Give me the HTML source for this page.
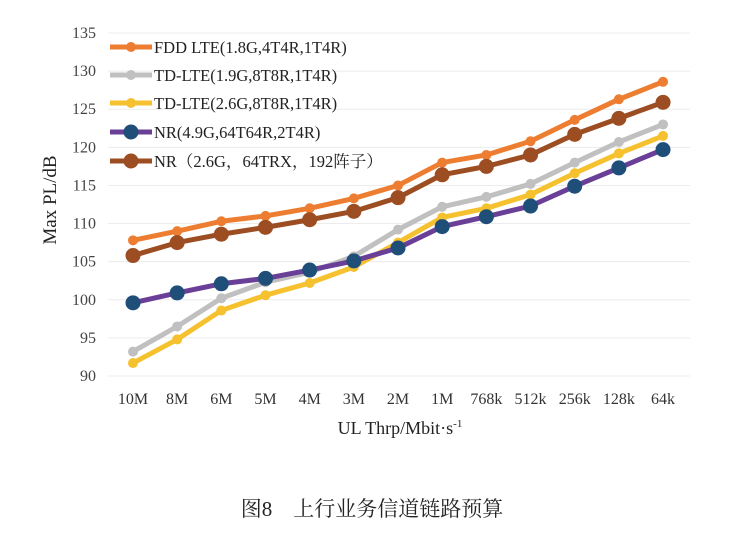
<!DOCTYPE html>
<html><head><meta charset="utf-8"><style>
body{margin:0;background:#fff;width:748px;height:551px;overflow:hidden}
svg{font-family:"Liberation Serif","Noto Serif CJK SC",serif}
</style></head><body>
<svg id="s" width="748" height="551" xmlns="http://www.w3.org/2000/svg"></svg>
<script>
const s=document.getElementById('s');
let h='';
const Y=v=>33+(135-v)*7.622, X=i=>133+i*44.17;
for(let v=90;v<=135;v+=5){h+=`<line x1="108" x2="690" y1="${Y(v)}" y2="${Y(v)}" stroke="#ececec" stroke-width="1"/>`;
h+=`<text x="96" y="${Y(v)+5}" font-size="16" fill="#444" text-anchor="end">${v}</text>`;}
const lab=['10M','8M','6M','5M','4M','3M','2M','1M','768k','512k','256k','128k','64k'];
lab.forEach((l,i)=>h+=`<text x="${X(i)}" y="404" font-size="16" fill="#333" text-anchor="middle">${l}</text>`);
const S=[
['#ED7D31','#ED7D31',5,[107.8,109,110.3,111,112,113.3,115,118,119,120.8,123.6,126.3,128.6],5],
['#C0C0C0','#C0C0C0',5,[93.2,96.5,100.2,102.3,103.6,105.7,109.2,112.2,113.5,115.2,118,120.7,123],5],
['#F5C12E','#F5C12E',5,[91.7,94.8,98.6,100.6,102.2,104.3,107.5,110.8,112,113.8,116.6,119.2,121.5],5],
['#6A3F97','#1F4E79',5,[99.6,100.9,102.1,102.8,103.9,105.1,106.8,109.6,110.9,112.3,114.9,117.3,119.7],7.5],
['#9C4D22','#9C4D22',5,[105.8,107.5,108.6,109.5,110.5,111.6,113.4,116.4,117.5,119,121.7,123.8,125.9],7.5]];
S.forEach(([lc,mc,w,d,r])=>{h+=`<polyline fill="none" stroke="${lc}" stroke-width="${w}" stroke-linejoin="round" points="${d.map((v,i)=>X(i)+','+Y(v)).join(' ')}"/>`;
d.forEach((v,i)=>h+=`<circle cx="${X(i)}" cy="${Y(v)}" r="${r}" fill="${mc}"/>`);});
const L=['FDD LTE(1.8G,4T4R,1T4R)','TD-LTE(1.9G,8T8R,1T4R)','TD-LTE(2.6G,8T8R,1T4R)','NR(4.9G,64T64R,2T4R)','NR（2.6G，64TRX，192阵子）'];
const ly=[47,75,103,132,161];
L.forEach((t,k)=>{const [lc,mc,w,d,r]=S[k];h+=`<line x1="110" x2="152" y1="${ly[k]}" y2="${ly[k]}" stroke="${lc}" stroke-width="5"/><circle cx="131" cy="${ly[k]}" r="${r}" fill="${mc}"/><text x="154" y="${ly[k]+6}" font-size="16.5" fill="#222">${t}</text>`;});
h+=`<text x="400" y="434" font-size="18" fill="#222" text-anchor="middle">UL Thrp/Mbit·s<tspan font-size="11" dy="-7">-1</tspan></text>`;
h+=`<text transform="translate(56,200) rotate(-90)" font-size="19" fill="#222" text-anchor="middle">Max PL/dB</text>`;
h+=`<text x="372" y="516" font-size="21" fill="#222" text-anchor="middle" xml:space="preserve">图8    上行业务信道链路预算</text>`;
s.innerHTML=h;
</script>
</body></html>
